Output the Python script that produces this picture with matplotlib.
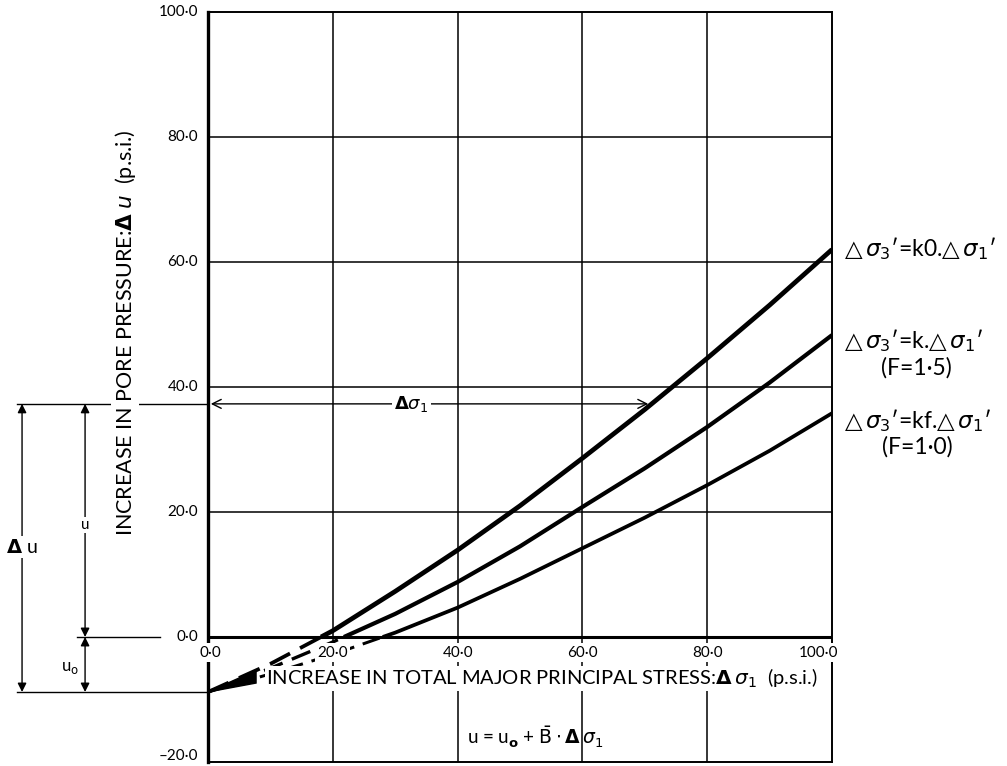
import numpy as np
import matplotlib
matplotlib.use("Agg")
import matplotlib.pyplot as plt
from matplotlib.patches import Polygon

plt.rcParams['font.family'] = ['Lato', 'DejaVu Sans']
plt.rcParams['mathtext.fontset'] = 'dejavusans'

# stress increase (p.s.i.) and pore pressure
x_vals = [0, 10, 20, 30, 40, 50, 60, 70, 80, 90, 100]
u_k0 = [-8.8, -4.3, 1.0, 7.3, 13.9, 21.0, 28.6, 36.4, 44.6, 53.1, 62.0]
u_k = [-8.8, -5.0, -0.8, 3.7, 8.8, 14.5, 20.8, 27.0, 33.6, 40.7, 48.3]
u_kf = [-8.8, -5.9, -2.8, 0.7, 4.7, 9.3, 14.2, 19.1, 24.3, 29.8, 35.8]

u0 = -8.8          # initial pore pressure
u_mark = 37.3      # level of the worked example
sig_mark = 71.0    # stress where the example meets the k0 curve

x_ticks = [0, 20, 40, 60, 80, 100]
x_ticklabels = ['0·0', '20·0', '40·0', '60·0', '80·0', '100·0']
y_ticks = [-20, 0, 20, 40, 60, 80, 100]
y_ticklabels = ['–20·0', '0·0', '20·0', '40·0', '60·0', '80·0', '100·0']

fig = plt.figure(figsize=(10.07, 7.66), dpi=100)
ax = fig.add_axes([208/1007, 4/766, 624/1007, 750/766])
ax.set_xlim(0, 100)
ax.set_ylim(-20, 100)

for sp in ax.spines.values():
    sp.set_linewidth(1.4)
ax.spines['left'].set_linewidth(2.4)

ax.set_xticks([])
ax.set_yticks([])

# y tick labels (the lowest one nudged up so it stays on the page)
for yv, lab in zip(y_ticks, y_ticklabels):
    ax.text(-1.6, max(yv, -19.0), lab, ha='right', va='center', fontsize=11,
            clip_on=False)

# grid
for gx in [20, 40, 60, 80]:
    ax.plot([gx, gx], [-20, 100], color='k', lw=1.1, zorder=1)
for gy in [20, 40, 60, 80]:
    ax.plot([0, 100], [gy, gy], color='k', lw=1.1, zorder=1)
ax.plot([0, 100], [0, 0], color='k', lw=2.2, zorder=2)

# curves: solid above zero, dashed below
bbox = dict(facecolor='white', edgecolor='none', pad=1.5)
for ys, lw in [(u_k0, 3.4), (u_k, 3.0), (u_kf, 2.7)]:
    xs = np.array(x_vals, float)
    ys = np.array(ys, float)
    x0 = np.interp(0, ys, xs)
    up = ys > 0
    ax.plot(np.r_[x0, xs[up]], np.r_[0, ys[up]], color='k', lw=lw,
            solid_capstyle='butt', solid_joinstyle='round', zorder=3)
    ax.plot(np.r_[xs[~up], x0], np.r_[ys[~up], 0], color='k', lw=lw * 0.8,
            linestyle=(0, (6, 3)), zorder=3)

# black wedge where the curves meet u0
wx = np.linspace(0, 7.7, 20)
top = np.interp(wx, x_vals, u_k0)
bot = np.interp(wx, x_vals, u_kf) - np.linspace(0, 0.8, 20)
ax.add_patch(Polygon(np.c_[np.r_[wx, wx[::-1]], np.r_[top, bot[::-1]]],
                     closed=True, facecolor='k', edgecolor='k', lw=1, zorder=3))

# x tick labels inside the lower band
for xv, lab, ha in zip(x_ticks, x_ticklabels,
                       ['left', 'center', 'center', 'center', 'center', 'right']):
    xx = {'left': -1.3, 'right': 101.0}.get(ha, xv)
    ax.text(xx, -2.5, lab, ha=ha, va='center', fontsize=11, bbox=bbox, zorder=6)

ax.text(9.3, -6.6, 'INCREASE IN TOTAL MAJOR PRINCIPAL STRESS:' +
        r'$\mathbf{\Delta}\,\sigma_1$' + '  (p.s.i.)', ha='left', va='center',
        fontsize=14.5, bbox=dict(facecolor='white', edgecolor='none', pad=0.5), zorder=6)

ax.text(52.5, -16, r'u = u$_\mathbf{o}$ + $\bar{\mathrm{B}}\cdot\mathbf{\Delta}\,\sigma_1$',
        ha='center', va='center', fontsize=13.5, zorder=6)

# y label
ax.text(-13.3, 48.6, 'INCREASE IN PORE PRESSURE:' + r'$\mathbf{\Delta}$ $u$' + '  (p.s.i.)',
        rotation=90, ha='center', va='center', fontsize=15.5,
        bbox=dict(facecolor='white', edgecolor='none', pad=1), clip_on=False, zorder=6)

# worked example: delta sigma_1 arrow
ax.annotate('', xy=(0, u_mark), xytext=(sig_mark, u_mark),
            arrowprops=dict(arrowstyle='<->', lw=1.0, color='k', mutation_scale=16),
            zorder=4)
ax.text(32.6, u_mark, r'$\mathbf{\Delta}\sigma_1$', ha='center', va='center',
        fontsize=13, bbox=bbox, zorder=6)

# dimension lines on the left
ax.plot([-30.6, 0], [u_mark, u_mark], color='k', lw=1.0, clip_on=False, zorder=2)
ax.plot([-30.6, 0], [u0, u0], color='k', lw=1.0, clip_on=False, zorder=2)
ax.plot([-21, -7.7], [0, 0], color='k', lw=1.0, clip_on=False, zorder=2)

arr = dict(arrowstyle='<|-|>', lw=1.0, color='k', mutation_scale=13,
           shrinkA=0, shrinkB=0)
ax.annotate('', xy=(-29.8, u_mark), xytext=(-29.8, u0), arrowprops=arr,
            annotation_clip=False)
ax.annotate('', xy=(-19.7, u_mark), xytext=(-19.7, 0), arrowprops=arr,
            annotation_clip=False)
ax.annotate('', xy=(-19.7, 0), xytext=(-19.7, u0), arrowprops=arr,
            annotation_clip=False)
ax.text(-29.8, 14.4, r'$\mathbf{\Delta}$ u', ha='center', va='center', fontsize=14,
        bbox=bbox, clip_on=False, zorder=6)
ax.text(-19.7, 17.9, 'u', ha='center', va='center', fontsize=11,
        bbox=dict(facecolor='white', edgecolor='none', pad=0.5), clip_on=False, zorder=6)
ax.text(-22.2, -4.9, r'u$_\mathrm{o}$', ha='center', va='center', fontsize=12,
        clip_on=False, zorder=6)

# curve labels on the right
lab_kw = dict(ha='left', va='center', fontsize=16.5, clip_on=False)
ax.text(101.9, 62.2, r'$△\,\sigma_3$′=k0.$△\,\sigma_1$′', **lab_kw)
ax.text(101.9, 47.5, r'$△\,\sigma_3$′=k.$△\,\sigma_1$′', **lab_kw)
ax.text(113.6, 43.0, '(F=1·5)', ha='center', va='center', fontsize=16.5, clip_on=False)
ax.text(101.9, 34.7, r'$△\,\sigma_3$′=kf.$△\,\sigma_1$′', **lab_kw)
ax.text(113.6, 30.4, '(F=1·0)', ha='center', va='center', fontsize=16.5, clip_on=False)

fig.savefig('out.png', dpi=100)
